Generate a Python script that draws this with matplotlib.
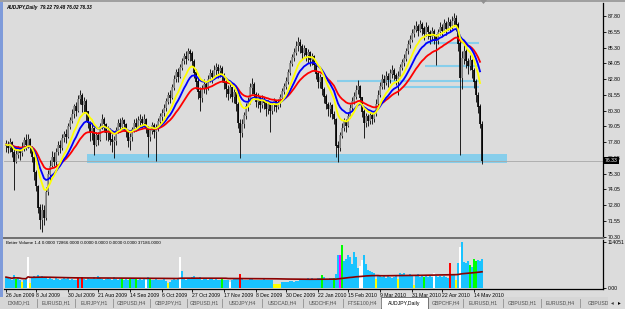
import numpy as np
import pandas as pd
import matplotlib
matplotlib.use("Agg")
import matplotlib.pyplot as plt
import matplotlib.transforms as mtransforms
from matplotlib.patches import Rectangle, Polygon

plt.rcParams['font.family'] = ['Liberation Sans', 'DejaVu Sans']

# AUDJPY daily bars, 26 Jun 2009 .. 20 May 2010
close = [77.6, 77.3, 77.8, 77.0, 76.2, 76.8, 77.2, 76.9, 77.4, 77.9,
         77.6, 78.0, 77.4, 76.6, 75.4, 74.3, 72.6, 71.6, 72.4, 71.8,
         73.8, 75.2, 75.9, 76.6, 76.2, 77.0, 77.5, 77.3, 78.1, 78.4,
         78.2, 79.0, 79.5, 80.0, 80.6, 80.3, 81.2, 81.5, 80.7, 81.0,
         80.2, 79.3, 78.6, 78.9, 77.6, 78.3, 78.0, 79.0, 79.6, 79.2,
         78.5, 78.7, 78.0, 77.8, 77.9, 78.7, 79.3, 79.0, 79.5, 79.2,
         78.6, 77.9, 78.2, 78.8, 79.3, 79.0, 79.5, 79.6, 79.3, 79.6,
         78.9, 78.2, 78.7, 79.1, 78.6, 78.9, 79.4, 79.8, 80.1, 80.5,
         81.0, 81.5, 81.3, 82.1, 82.8, 83.3, 83.0, 83.7, 84.2, 84.6,
         84.4, 85.0, 84.8, 84.2, 83.3, 82.6, 81.8, 81.3, 82.0, 82.4,
         82.1, 82.8, 83.2, 83.0, 83.5, 83.7, 83.4, 83.6, 83.1, 82.5,
         82.0, 81.6, 82.1, 81.4, 81.7, 80.8, 79.3, 78.5, 79.2, 79.9,
         80.6, 81.0, 82.1, 82.4, 81.6, 81.0, 81.3, 80.7, 81.2, 80.9,
         80.4, 80.8, 80.3, 80.7, 81.0, 80.6, 80.9, 81.3, 81.8, 82.2,
         82.6, 83.3, 84.0, 84.5, 84.9, 85.4, 85.7, 85.4, 84.9, 85.2,
         84.7, 84.9, 84.3, 84.6, 83.9, 83.2, 82.6, 82.9, 82.0, 81.4,
         80.8, 80.4, 80.7, 80.0, 79.6, 77.5, 77.3, 78.3, 78.9, 79.4,
         79.1, 79.8, 80.5, 81.0, 81.4, 81.9, 82.2, 81.3, 80.2, 79.3,
         79.8, 79.5, 79.9, 79.6, 80.0, 80.8, 81.5, 82.2, 82.8, 82.5,
         83.0, 82.7, 83.2, 83.5, 83.1, 82.8, 83.0, 83.7, 84.1, 84.4,
         85.0, 85.5, 85.9, 86.4, 86.7, 87.0, 86.6, 87.1, 86.8, 86.4,
         86.9, 86.5, 86.1, 86.6, 86.2, 85.8, 86.5, 86.9, 86.6, 87.2,
         86.8, 87.3, 87.0, 87.4, 87.6, 87.1, 85.6, 82.9, 84.4, 85.0,
         84.2, 83.8, 84.3, 83.5, 82.6, 81.5, 80.6, 79.22, 76.33]

high = [78.0, 77.9, 78.1, 77.9, 77.3, 77.3, 77.5, 77.4, 77.8, 78.2,
        78.4, 78.4, 78.1, 77.5, 76.7, 75.6, 74.4, 72.9, 72.9, 72.8,
        74.2, 75.6, 76.4, 77.1, 77.0, 77.3, 77.9, 78.0, 78.4, 78.7,
        78.8, 79.3, 79.8, 80.4, 80.8, 81.0, 81.5, 81.9, 81.7, 81.4,
        81.2, 80.3, 79.5, 79.2, 79.0, 78.6, 78.6, 79.3, 80.0, 79.8,
        79.3, 79.1, 78.9, 78.4, 78.3, 79.0, 79.6, 79.7, 79.8, 79.6,
        79.3, 78.7, 78.5, 79.0, 79.6, 79.7, 79.9, 80.0, 79.9, 80.0,
        79.7, 79.1, 79.0, 79.4, 79.3, 79.2, 79.7, 80.1, 80.4, 80.8,
        81.3, 81.8, 81.9, 82.4, 83.1, 83.6, 83.7, 84.0, 84.5, 84.9,
        85.0, 85.3, 85.2, 85.0, 84.4, 83.6, 82.9, 82.2, 82.3, 82.8,
        82.6, 83.1, 83.6, 83.5, 83.9, 84.1, 84.0, 83.9, 83.8, 83.3,
        82.7, 82.3, 82.4, 82.2, 82.0, 81.8, 81.0, 79.6, 79.6, 80.2,
        80.9, 81.4, 82.5, 82.9, 82.6, 81.8, 81.7, 81.4, 81.5, 81.4,
        81.1, 81.1, 80.9, 81.0, 81.3, 81.1, 81.2, 81.6, 82.1, 82.5,
        83.0, 83.6, 84.3, 84.8, 85.3, 85.8, 86.1, 86.0, 85.6, 85.5,
        85.3, 85.2, 85.0, 84.9, 84.7, 84.0, 83.4, 83.2, 83.0, 82.2,
        81.6, 81.0, 81.0, 80.8, 80.3, 79.7, 77.9, 78.6, 79.3, 79.7,
        79.6, 80.2, 80.8, 81.4, 81.8, 82.3, 82.7, 82.3, 81.4, 80.4,
        80.1, 80.0, 80.2, 80.1, 80.3, 81.2, 81.9, 82.6, 83.2, 83.1,
        83.4, 83.3, 83.6, 83.9, 83.7, 83.3, 83.4, 84.0, 84.4, 84.8,
        85.3, 85.9, 86.3, 86.8, 87.1, 87.4, 87.2, 87.5, 87.3, 87.0,
        87.3, 87.1, 86.7, 86.9, 86.8, 86.4, 86.8, 87.3, 87.2, 87.6,
        87.4, 87.7, 87.6, 87.8, 88.0, 87.9, 87.3, 85.8, 85.0, 85.5,
        85.2, 84.5, 84.7, 84.4, 83.7, 82.8, 81.8, 80.8, 79.48]

low = [77.0, 76.9, 77.0, 76.6, 74.0, 76.1, 76.5, 76.4, 76.7, 77.1,
       77.2, 77.3, 76.9, 76.2, 74.8, 73.9, 72.2, 70.9, 70.7, 71.2,
       71.6, 73.6, 74.8, 75.8, 75.9, 76.0, 76.8, 76.9, 77.2, 77.8,
       77.7, 78.1, 78.8, 79.3, 79.7, 79.9, 80.2, 80.8, 80.2, 80.1,
       79.5, 78.9, 77.9, 78.0, 76.8, 77.5, 77.6, 77.9, 78.8, 78.6,
       78.0, 77.9, 77.6, 77.0, 76.5, 77.6, 78.5, 78.6, 78.8, 78.7,
       78.2, 77.4, 77.2, 77.9, 78.6, 78.7, 78.9, 79.1, 78.9, 79.0,
       78.5, 76.6, 77.9, 78.4, 78.1, 76.3, 78.7, 79.2, 79.5, 79.9,
       80.3, 80.8, 80.9, 81.2, 81.9, 82.6, 82.6, 82.9, 83.5, 84.0,
       84.0, 84.3, 84.2, 83.8, 82.9, 82.0, 81.2, 80.3, 81.0, 81.7,
       81.6, 81.9, 82.6, 82.5, 82.8, 83.1, 82.9, 83.0, 82.6, 82.0,
       81.4, 81.1, 81.3, 81.0, 80.9, 80.3, 78.9, 76.5, 78.2, 78.9,
       79.6, 80.3, 80.8, 81.6, 81.2, 80.6, 80.5, 80.2, 80.5, 80.4,
       79.9, 80.0, 78.6, 80.0, 80.3, 80.2, 80.4, 80.6, 81.1, 81.6,
       82.0, 82.4, 83.1, 83.8, 84.2, 84.7, 85.0, 84.9, 84.4, 84.6,
       84.2, 84.1, 83.8, 83.9, 83.4, 82.8, 82.1, 82.1, 81.5, 80.9,
       80.4, 79.9, 79.8, 79.6, 79.2, 76.6, 76.2, 77.1, 78.1, 78.7,
       78.6, 79.0, 79.7, 80.3, 80.8, 81.2, 81.6, 80.9, 79.8, 78.1,
       79.0, 79.1, 79.2, 79.2, 79.4, 79.9, 80.7, 81.4, 82.0, 82.0,
       82.3, 82.2, 82.5, 82.9, 82.7, 82.3, 81.5, 82.9, 83.5, 83.8,
       84.2, 84.8, 85.3, 85.7, 86.1, 86.5, 86.2, 86.5, 86.3, 85.9,
       86.2, 86.0, 85.6, 85.8, 85.6, 83.9, 85.6, 86.3, 86.2, 86.5,
       86.3, 86.7, 86.5, 86.8, 87.0, 86.6, 85.0, 76.8, 82.0, 84.0,
       83.7, 83.2, 83.5, 82.9, 82.1, 81.0, 80.1, 78.9, 76.02]

# Better Volume pane, thousands of ticks
volume = [27, 25, 23, 21, 31, 23, 25, 21, 15, 20,
          23, 78, 13, 25, 29, 27, 31, 27, 29, 25,
          27, 23, 25, 23, 21, 25, 23, 21, 23, 25,
          22, 24, 21, 23, 19, 21, 25, 23, 27, 23,
          21, 25, 23, 22, 27, 23, 29, 25, 23, 21,
          23, 25, 22, 21, 27, 23, 20, 23, 25, 21,
          23, 20, 25, 22, 23, 24, 21, 23, 20, 23,
          21, 27, 25, 21, 20, 23, 19, 21, 20, 23,
          18, 13, 16, 21, 23, 20, 25, 76, 42, 23,
          21, 25, 23, 27, 29, 25, 23, 27, 21, 23,
          22, 21, 23, 22, 21, 23, 19, 21, 23, 20,
          21, 19, 16, 21, 23, 22, 23, 34, 25, 21,
          20, 21, 22, 23, 19, 21, 20, 19, 21, 22,
          20, 21, 21, 19, 10, 9, 11, 10, 16, 14,
          16, 15, 17, 18, 16, 18, 17, 19, 20, 22,
          21, 24, 22, 26, 23, 20, 24, 26, 32, 28,
          20, 22, 26, 24, 26, 34, 82, 82, 106, 68,
          72, 83, 76, 60, 89, 78, 50, 54, 70, 82,
          60, 44, 42, 40, 36, 22, 30, 32, 28, 30,
          26, 30, 28, 26, 28, 30, 22, 38, 34, 36,
          32, 30, 34, 30, 8, 30, 34, 28, 32, 27,
          30, 28, 30, 28, 38, 30, 28, 30, 28, 30,
          28, 26, 62, 32, 34, 20, 62, 102, 114, 64,
          62, 66, 56, 52, 72, 68, 70, 68, 72.866]

# bars that are not the usual blue one
vol_flags = {5: 'g', 8: 'y', 11: 'w', 12: 'y', 36: 'r', 38: 'r', 58: 'g', 62: 'g',
             65: 'g', 70: 'w', 72: 'g', 81: 'y', 87: 'w', 108: 'g', 112: 'w',
             117: 'r', 134: 'y', 135: 'y', 136: 'y', 137: 'y', 158: 'g', 164: 'g',
             167: 'm', 168: 'g', 177: 'w', 178: 'w', 185: 'y', 196: 'y', 204: 'y',
             209: 'g', 214: 'w', 222: 'r', 225: 'y', 227: 'w', 232: 'g', 234: 'g',
             235: 'g'}
flag_colors = {'b': '#19C3FF', 'g': '#00FF00', 'y': '#FFFF00', 'w': '#FFFFFF',
               'r': '#FF0000', 'm': '#FF00FF'}

date_labels = ['26 Jun 2009', '8 Jul 2009', '30 Jul 2009', '21 Aug 2009', '14 Sep 2009',
               '6 Oct 2009', '27 Oct 2009', '17 Nov 2009', '8 Dec 2009', '30 Dec 2009',
               '22 Jan 2010', '15 Feb 2010', '9 Mar 2010', '31 Mar 2010', '22 Apr 2010',
               '14 May 2010']
date_bars = [0, 15, 31, 46, 62, 78, 93, 109, 125, 140, 156, 171, 187, 203, 218, 234]

price_ticks = [87.80 - 1.25 * i for i in range(15)]
last_price = 76.33

# drawn objects on the chart
zone = (40.5, 250.5, 76.15, 76.85)          # support box: bar from, bar to, low, high
levels = [82.65, 82.17, 83.86, 85.64]
level_start = [165.5, 198.5, 209.5, 209.5]
level_end = 236.5

tabs = ['DXMD,H1', 'EURUSD,H1', 'EURJPY,H1', 'GBPUSD,H4', 'GBPJPY,H1', 'GBPUSD,H1',
        'USDJPY,H4', 'USDCAD,H4', 'USDCHF,H4', 'FTSE100,H4', 'AUDJPY,Daily',
        'GBPCHF,H4', 'EURUSD,H1', 'GBPUSD,H1', 'EURUSD,H4', 'GBPUSD,H1']
tab_edges = [0, 37, 75, 113, 150, 187, 222, 262, 303, 343, 381, 428, 463, 503, 541, 580, 625]
active_tab = 10

BG = '#DCDCDC'
W, H = 625, 309
FS = 3.7


def px(l, t, r, b):
    return [l / W, 1 - b / H, (r - l) / W, (b - t) / H]


n = len(close)
x = np.arange(n)
c = pd.Series(close)
opn = c.shift(1).fillna(close[0]).values
# MAs stop one bar short, like the terminal shows them
ma_y = c.ewm(span=10, adjust=False).mean()[:-1]
ma_b = c.ewm(span=16, adjust=False).mean()[:-1]
ma_r = c.ewm(span=28, adjust=False).mean()[:-1]
vol = np.array(volume) * 1000
vol_avg = pd.Series(vol).rolling(100, min_periods=1).mean()
vcols = [flag_colors[vol_flags.get(i, 'b')] for i in range(n)]

fig = plt.figure(figsize=(W / 100, H / 100), dpi=100, facecolor=BG)

# ---- price pane
ax = fig.add_axes(px(4, 3, 603, 238), facecolor=BG)
ax.set_xlim(-1, 298.5)
ax.set_ylim(70.19, 88.83)

ax.add_patch(Rectangle((zone[0], zone[2]), zone[1] - zone[0], zone[3] - zone[2],
                       facecolor='#87CEEB', edgecolor='none', zorder=1))
for lv, s in zip(levels, level_start):
    ax.hlines(lv, s, level_end, color='#87CEEB', lw=1.5, zorder=1)
ax.axhline(last_price, color='#A8A8A8', lw=0.6, zorder=1.5)

ax.vlines(x, low, high, color='black', lw=0.6, zorder=2)
body_lo = np.minimum(opn, close)
body_hi = np.maximum(opn, close) + 0.04
body_col = ['#8C8C8C' if cl >= op else 'black' for op, cl in zip(opn, close)]
ax.vlines(x, body_lo, body_hi, colors=body_col, lw=1.2, zorder=2.1)

xm = x[:-1]
ax.plot(xm, ma_r, color='#FF0000', lw=1.3, zorder=3)
ax.plot(xm, ma_b, color='#0000FF', lw=1.3, zorder=3)
ax.plot(xm, ma_y, color='#FFFF00', lw=1.3, zorder=3)

ax.text(0.004, 0.99, 'AUDJPY,Daily  79.22 79.48 76.02 76.33', transform=ax.transAxes,
        fontsize=3.4, va='top', ha='left', color='black', style='italic', weight='bold')

ax.yaxis.tick_right()
ax.set_yticks(price_ticks)
ax.set_yticklabels(['%.2f' % p for p in price_ticks])
ax.tick_params(axis='y', labelsize=FS, length=2, pad=1.5, colors='black', width=0.6)
ax.set_xticks([])
for s in ['top', 'left']:
    ax.spines[s].set_visible(False)
ax.spines['right'].set_color('black')
ax.spines['right'].set_linewidth(0.9)
ax.spines['bottom'].set_color('#707070')
ax.spines['bottom'].set_linewidth(1.4)

trans = mtransforms.blended_transform_factory(ax.transAxes, ax.transData)
ax.text(1.003, last_price, '%.2f' % last_price, transform=trans, fontsize=FS,
        color='white', va='center', ha='left',
        bbox=dict(facecolor='black', edgecolor='none', pad=0.8), zorder=5)

# ---- volume pane
axv = fig.add_axes(px(4, 240, 603, 289), facecolor=BG)
axv.set_xlim(-1, 298.5)
axv.set_ylim(-2479, 119009)
axv.bar(x, vol, width=0.75, color=vcols, zorder=2)
axv.plot(x, vol_avg, color='#8B0000', lw=1.2, zorder=3)
axv.text(0.004, 0.97, 'Better Volume 1.4 0.0000 72866.0000 0.0000 0.0000 0.0000 0.0000 37186.0000',
         transform=axv.transAxes, fontsize=3.2, va='top', ha='left', color='black')
axv.yaxis.tick_right()
axv.set_yticks([0, 114051])
axv.set_yticklabels(['0.00', '114051'])
axv.tick_params(axis='y', labelsize=FS, length=2, pad=1.5, width=0.6)
axv.set_xticks(date_bars)
axv.set_xticklabels(date_labels)
axv.tick_params(axis='x', labelsize=FS, length=2, pad=1, width=0.6)
for lab in axv.get_xticklabels():
    lab.set_ha('left')
axv.spines['top'].set_visible(False)
axv.spines['left'].set_visible(False)
for s in ['right', 'bottom']:
    axv.spines[s].set_color('black')
    axv.spines[s].set_linewidth(0.9)

# ---- window chrome: left frame, top edge, shift marker, tab bar
fig.patches.append(Rectangle((0, 1 - 297 / H), 3 / W, 297 / H, transform=fig.transFigure,
                             facecolor='#7F9BDA', edgecolor='none'))
fig.patches.append(Rectangle((0, 1 - 2 / H), 1, 2 / H, transform=fig.transFigure,
                             facecolor='#A0A0A0', edgecolor='none'))
fig.patches.append(Polygon([(480 / W, 1), (487 / W, 1), (483.5 / W, 1 - 4 / H)],
                           transform=fig.transFigure, facecolor='#909090', edgecolor='none'))

axt = fig.add_axes(px(0, 297, 608, 309), facecolor='#D6D6D6')
axt.set_xlim(0, 608)
axt.set_ylim(12, 0)
axt.axis('off')
axt.add_patch(Rectangle((0, 0), 608, 12, facecolor='#D6D6D6', edgecolor='none'))
for i, name in enumerate(tabs):
    l, r = tab_edges[i], tab_edges[i + 1]
    if i == active_tab:
        axt.add_patch(Rectangle((l, 0), r - l, 11.5, facecolor='white', edgecolor='#606060', lw=0.6))
    else:
        axt.plot([r, r], [2, 10], color='#909090', lw=0.6)
    axt.text((l + r) / 2, 6, name, fontsize=FS, ha='center', va='center',
             color='black' if i == active_tab else '#505050', clip_on=True)
fig.text(612 / W, 1 - 303 / H, '\u25C2', fontsize=4, ha='center', va='center', color='#404040')
fig.text(619 / W, 1 - 303 / H, '\u25B8', fontsize=4, ha='center', va='center', color='black')

fig.savefig('out.png', dpi=100, facecolor=BG)
